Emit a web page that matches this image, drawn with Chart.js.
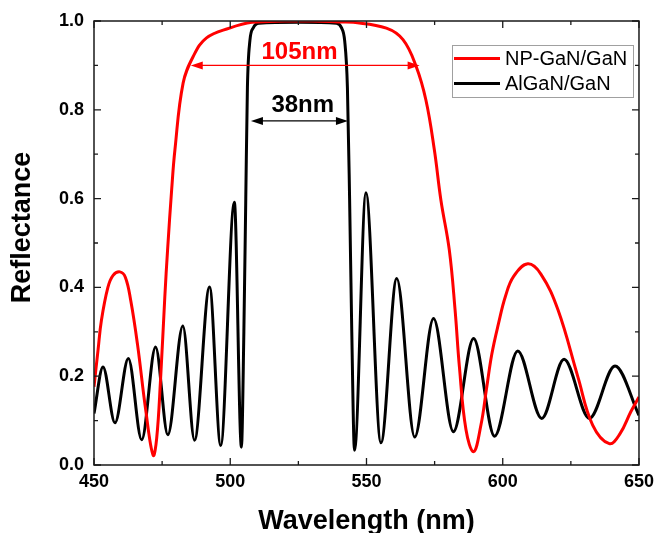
<!DOCTYPE html>
<html>
<head>
<meta charset="utf-8">
<script src="https://cdn.jsdelivr.net/npm/chart.js@4.4.1/dist/chart.umd.min.js"></script>
<style>
  html, body { margin: 0; padding: 0; background: #fff; }
  #wrap { width: 660px; height: 533px; }
</style>
</head>
<body>
<div id="wrap"><canvas id="c" width="660" height="533"></canvas></div>
<script>
// ---- Data ----
const seriesNames = ['NP-GaN/GaN', 'AlGaN/GaN'];
const xTitle = 'Wavelength (nm)';
const yTitle = 'Reflectance';

const npWavelength = [450, 451.5, 452.7, 455.1, 457, 459.5, 461.5, 463.5, 466, 469, 471.7, 473, 474.4, 476, 477, 478.5, 479.7,
  482.7, 486.4, 491.3, 499.7, 508, 520, 530, 540, 545.2, 557.3, 563.4, 568.2, 571.8, 574.9, 577.3, 580.4, 582.5,
  584.1, 586.5, 589.3, 592, 594, 596, 598.5, 601, 604, 609.2, 614, 620.3, 627.6, 633, 639.1, 643, 647, 650];
const npReflectance = [0.176, 0.26, 0.325, 0.40, 0.427, 0.435, 0.423, 0.37, 0.27, 0.123, 0.022, 0.06, 0.19, 0.38, 0.484, 0.62, 0.71,
  0.86, 0.92, 0.962, 0.984, 0.997, 1.0, 1.0, 0.998, 0.997, 0.984, 0.958, 0.898, 0.822, 0.71, 0.597, 0.484, 0.35,
  0.221, 0.08, 0.03, 0.09, 0.17, 0.25, 0.32, 0.38, 0.425, 0.453, 0.43, 0.349, 0.198, 0.09, 0.048, 0.07, 0.12, 0.153];

const alWavelength = [450, 453.3, 457.7, 462.6, 467.5, 472.6, 477.1, 482.6, 486.9, 492.4, 496.5, 501.5, 504.1,
  505.0, 505.7, 506.3, 507.2, 508.5, 510.5, 525, 539, 540.8, 542, 543, 543.8, 544.6, 545.6,
  549.8, 555.3, 561.1, 567.7, 574.6, 581.9, 589.3, 597, 605.5, 614.3, 622.5, 631.8, 641.2, 650];
const alReflectance = [0.116, 0.221, 0.095, 0.24, 0.057, 0.266, 0.068, 0.313, 0.056, 0.401, 0.044, 0.592, 0.04,
  0.3, 0.6, 0.85, 0.955, 0.985, 0.995, 0.997, 0.995, 0.985, 0.955, 0.85, 0.6, 0.3, 0.033,
  0.613, 0.05, 0.42, 0.063, 0.33, 0.075, 0.285, 0.065, 0.257, 0.105, 0.238, 0.105, 0.223, 0.112];

const xMajorTicks = [450, 500, 550, 600, 650];
const xMinorTicks = [475, 525, 575, 625];
const yMajorTicks = [0, 0.2, 0.4, 0.6, 0.8, 1.0];
const yMinorTicks = [0.1, 0.3, 0.5, 0.7, 0.9];

// bandwidth annotations (text, start, end, level, label x, label y)
const spanText  = ['105nm', '38nm'];
const spanStart = [485.5, 507.6];
const spanEnd   = [569.5, 543.2];
const spanLevel = [0.9, 0.775];
const spanLabelX = [525.4, 526.6];
const spanLabelY = [0.93, 0.81];
const spanColor = ['#ff0000', '#000000'];

const FONT = '"Liberation Sans", Arial, sans-serif';
const toPoints = (xs, ys) => xs.map((x, i) => ({ x: x, y: ys[i] }));

// ---- Custom drawing: frame, inward ticks, legend, arrows, y title ----
const decorPlugin = {
  id: 'decor',
  afterDatasetsDraw(chart) {
    const ctx = chart.ctx;
    const a = chart.chartArea;
    const xs = chart.scales.x, ys = chart.scales.y;
    ctx.save();
    for (let i = 0; i < spanText.length; i++) {
      const x1 = xs.getPixelForValue(spanStart[i]);
      const x2 = xs.getPixelForValue(spanEnd[i]);
      const y = ys.getPixelForValue(spanLevel[i]);
      ctx.strokeStyle = spanColor[i];
      ctx.fillStyle = spanColor[i];
      ctx.lineWidth = 1.3;
      const hl = 12, hw = 4;
      ctx.beginPath();
      ctx.moveTo(x1 + hl - 1, y); ctx.lineTo(x2 - hl + 1, y);
      ctx.stroke();
      ctx.beginPath();
      ctx.moveTo(x1, y); ctx.lineTo(x1 + hl, y - hw); ctx.lineTo(x1 + hl, y + hw); ctx.closePath();
      ctx.fill();
      ctx.beginPath();
      ctx.moveTo(x2, y); ctx.lineTo(x2 - hl, y - hw); ctx.lineTo(x2 - hl, y + hw); ctx.closePath();
      ctx.fill();
      ctx.font = 'bold 24px ' + FONT;
      ctx.textAlign = 'center';
      ctx.textBaseline = 'middle';
      ctx.fillText(spanText[i], xs.getPixelForValue(spanLabelX[i]), ys.getPixelForValue(spanLabelY[i]));
    }
    ctx.strokeStyle = '#1a1a1a';
    ctx.lineWidth = 1.5;
    ctx.strokeRect(a.left, a.top, a.right - a.left, a.bottom - a.top);
    ctx.lineWidth = 1.3;
    const tick = (vals, len, horiz) => {
      vals.forEach(v => {
        ctx.beginPath();
        if (horiz) {
          const px = xs.getPixelForValue(v);
          ctx.moveTo(px, a.bottom); ctx.lineTo(px, a.bottom - len);
          ctx.moveTo(px, a.top); ctx.lineTo(px, a.top + len);
        } else {
          const py = ys.getPixelForValue(v);
          ctx.moveTo(a.left, py); ctx.lineTo(a.left + len, py);
          ctx.moveTo(a.right, py); ctx.lineTo(a.right - len, py);
        }
        ctx.stroke();
      });
    };
    tick(xMajorTicks, 7, true);
    tick(xMinorTicks, 4, true);
    tick(yMajorTicks, 7, false);
    tick(yMinorTicks, 4, false);
    // legend
    const lx = 452, ly = 45, lw = 181, lh = 52;
    ctx.fillStyle = '#ffffff';
    ctx.fillRect(lx, ly, lw, lh);
    ctx.strokeStyle = '#a0a0a0';
    ctx.lineWidth = 1;
    ctx.strokeRect(lx + 0.5, ly + 0.5, lw, lh);
    chart.data.datasets.forEach((ds, i) => {
      const yy = ly + 13.5 + i * 25;
      ctx.strokeStyle = ds.borderColor;
      ctx.lineWidth = 3;
      ctx.beginPath();
      ctx.moveTo(lx + 2, yy); ctx.lineTo(lx + 48, yy);
      ctx.stroke();
      ctx.fillStyle = '#000';
      ctx.font = '20px ' + FONT;
      ctx.textAlign = 'left';
      ctx.textBaseline = 'middle';
      ctx.fillText(ds.label, lx + 53, yy + 1);
    });
    // y-axis title
    ctx.save();
    ctx.translate(23, ys.getPixelForValue(0.535));
    ctx.rotate(-Math.PI / 2);
    ctx.fillStyle = '#000';
    ctx.font = 'bold 27px ' + FONT;
    ctx.textAlign = 'center';
    ctx.textBaseline = 'middle';
    ctx.fillText(yTitle, 0, 0);
    ctx.restore();
    ctx.restore();
  }
};

new Chart(document.getElementById('c'), {
  type: 'line',
  data: {
    datasets: [
      { label: seriesNames[0], data: toPoints(npWavelength, npReflectance), borderColor: '#ff0000',
        borderWidth: 3, pointRadius: 0, tension: 0.4, fill: false },
      { label: seriesNames[1], data: toPoints(alWavelength, alReflectance), borderColor: '#000000',
        borderWidth: 3, pointRadius: 0, cubicInterpolationMode: 'monotone', fill: false }
    ]
  },
  options: {
    responsive: false,
    animation: false,
    devicePixelRatio: 1,
    layout: { padding: { top: 21, right: 15, left: 0, bottom: 0 } },
    plugins: { legend: { display: false }, tooltip: { enabled: false } },
    scales: {
      x: {
        type: 'linear', min: 450, max: 650,
        afterBuildTicks: s => { s.ticks = xMajorTicks.map(v => ({ value: v })); },
        afterFit: s => { s.height = 68; },
        grid: { display: false, drawTicks: false },
        border: { display: false },
        ticks: { color: '#000', padding: 6, font: { family: FONT, size: 18, weight: 'bold' },
                 callback: v => String(v) },
        title: { display: true, text: xTitle, color: '#000', padding: { top: 0, bottom: -2 },
                 font: { family: FONT, size: 27, weight: 'bold', lineHeight: 1 } }
      },
      y: {
        min: 0, max: 1,
        afterBuildTicks: s => { s.ticks = yMajorTicks.map(v => ({ value: v })); },
        afterFit: s => { s.width = 94; },
        grid: { display: false, drawTicks: false },
        border: { display: false },
        ticks: { color: '#000', padding: 10, font: { family: FONT, size: 18, weight: 'bold' },
                 callback: v => Number(v).toFixed(1) },
        title: { display: false }
      }
    }
  },
  plugins: [decorPlugin]
});
</script>
</body>
</html>
